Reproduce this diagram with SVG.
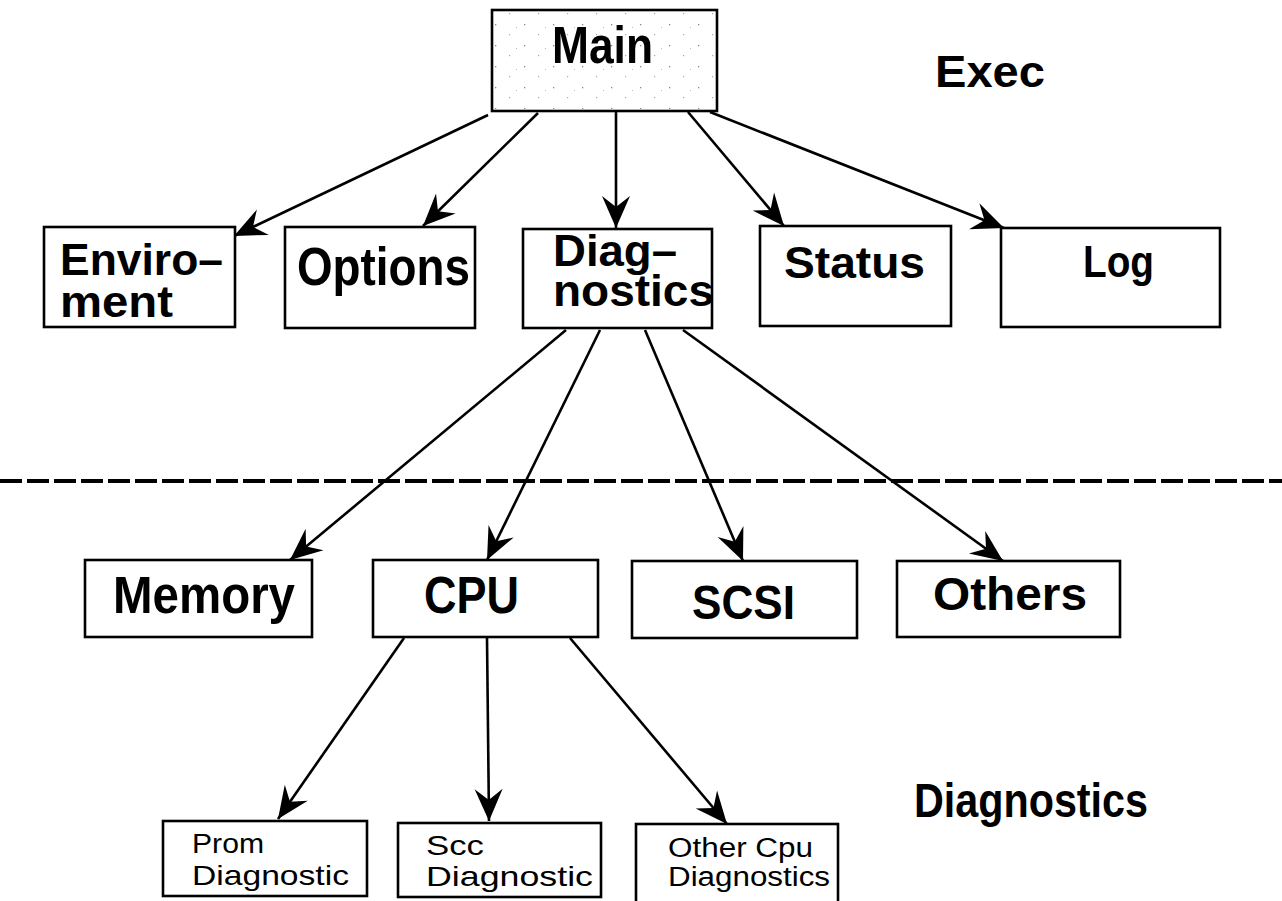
<svg xmlns="http://www.w3.org/2000/svg" width="1282" height="901" viewBox="0 0 1282 901">
<style>
.box{fill:#fff;stroke:#000;stroke-width:2.6}
.b{font-family:"Liberation Sans",Arial,sans-serif;font-weight:bold;fill:#000}
.r{font-family:"Liberation Sans",Arial,sans-serif;font-weight:normal;fill:#000}
.conn line{stroke:#000;stroke-width:2.6;marker-end:url(#ah)}
</style>
<defs>
<marker id="ah" markerUnits="userSpaceOnUse" markerWidth="36" markerHeight="32" viewBox="-34 -16 36 32" refX="0" refY="0" orient="auto">
<path d="M0,0 L-32,-14 L-21,0 L-32,14 Z" fill="#000"/>
</marker>
<pattern id="speck" width="29" height="21" patternUnits="userSpaceOnUse">
<rect x="2" y="3" width="1.3" height="1.3" fill="#888"/>
<rect x="16" y="13" width="1.2" height="1.2" fill="#aaa"/>
<rect x="23" y="6" width="1" height="1" fill="#bbb"/>
</pattern>
</defs>
<rect width="1282" height="901" fill="#fff"/>

<g id="connectors" class="conn">
<line x1="488" y1="115" x2="234" y2="236"/>
<line x1="538" y1="113" x2="423" y2="226"/>
<line x1="616" y1="112" x2="616" y2="228"/>
<line x1="688" y1="112" x2="784" y2="226"/>
<line x1="710" y1="112" x2="1004" y2="228"/>
<line x1="566" y1="330" x2="290" y2="560"/>
<line x1="600" y1="330" x2="487" y2="560"/>
<line x1="645" y1="330" x2="743" y2="561"/>
<line x1="683" y1="330" x2="1003" y2="561"/>
<line x1="404" y1="638" x2="278" y2="819"/>
<line x1="487" y1="638" x2="489" y2="821"/>
<line x1="570" y1="638" x2="727" y2="824"/>
</g>

<line id="divider" x1="0" y1="481" x2="1282" y2="481" stroke="#000" stroke-width="4" stroke-dasharray="22 5"/>

<g id="main">
<rect class="box" x="492" y="10" width="225" height="101"/>
<rect x="494" y="12" width="221" height="97" fill="url(#speck)"/>
<text class="b" x="552" y="63" font-size="52" textLength="101" lengthAdjust="spacingAndGlyphs">Main</text>
</g>
<g id="exec-label"><text class="b" x="935" y="87" font-size="45" textLength="110" lengthAdjust="spacingAndGlyphs">Exec</text></g>

<g id="environment">
<rect class="box" x="44" y="227" width="191" height="100"/>
<text class="b" x="60" y="275" font-size="44" textLength="163" lengthAdjust="spacingAndGlyphs">Enviro–</text>
<text class="b" x="60" y="317" font-size="44" textLength="113" lengthAdjust="spacingAndGlyphs">ment</text>
</g>
<g id="options">
<rect class="box" x="285" y="227" width="190" height="101"/>
<text class="b" x="297" y="285" font-size="53" textLength="173" lengthAdjust="spacingAndGlyphs">Options</text>
</g>
<g id="diagnostics">
<rect class="box" x="523" y="229" width="189" height="99"/>
<text class="b" x="553" y="266" font-size="44" textLength="124" lengthAdjust="spacingAndGlyphs">Diag–</text>
<text class="b" x="553" y="306" font-size="44" textLength="161" lengthAdjust="spacingAndGlyphs">nostics</text>
</g>
<g id="status">
<rect class="box" x="760" y="226" width="191" height="100"/>
<text class="b" x="784" y="278" font-size="45" textLength="141" lengthAdjust="spacingAndGlyphs">Status</text>
</g>
<g id="log">
<rect class="box" x="1001" y="228" width="219" height="99"/>
<text class="b" x="1083" y="277" font-size="45" textLength="71" lengthAdjust="spacingAndGlyphs">Log</text>
</g>

<g id="memory">
<rect class="box" x="85" y="560" width="227" height="77"/>
<text class="b" x="113" y="613" font-size="51" textLength="182" lengthAdjust="spacingAndGlyphs">Memory</text>
</g>
<g id="cpu">
<rect class="box" x="373" y="560" width="225" height="77"/>
<text class="b" x="424" y="613" font-size="51" textLength="95" lengthAdjust="spacingAndGlyphs">CPU</text>
</g>
<g id="scsi">
<rect class="box" x="632" y="561" width="225" height="77"/>
<text class="b" x="692" y="619" font-size="49" textLength="103" lengthAdjust="spacingAndGlyphs">SCSI</text>
</g>
<g id="others">
<rect class="box" x="897" y="561" width="223" height="76"/>
<text class="b" x="933" y="610" font-size="46" textLength="154" lengthAdjust="spacingAndGlyphs">Others</text>
</g>

<g id="prom">
<rect class="box" x="163" y="821" width="204" height="75"/>
<text class="r" x="192" y="853" font-size="28" textLength="72" lengthAdjust="spacingAndGlyphs">Prom</text>
<text class="r" x="192" y="885" font-size="28" textLength="157" lengthAdjust="spacingAndGlyphs">Diagnostic</text>
</g>
<g id="scc">
<rect class="box" x="398" y="823" width="203" height="74"/>
<text class="r" x="426" y="855" font-size="28" textLength="58" lengthAdjust="spacingAndGlyphs">Scc</text>
<text class="r" x="426" y="886" font-size="28" textLength="167" lengthAdjust="spacingAndGlyphs">Diagnostic</text>
</g>
<g id="othercpu">
<rect class="box" x="636" y="824" width="202" height="80"/>
<text class="r" x="668" y="857" font-size="27" textLength="145" lengthAdjust="spacingAndGlyphs">Other Cpu</text>
<text class="r" x="668" y="886" font-size="27" textLength="162" lengthAdjust="spacingAndGlyphs">Diagnostics</text>
</g>
<g id="diagnostics-label"><text class="b" x="914" y="817" font-size="48" textLength="234" lengthAdjust="spacingAndGlyphs">Diagnostics</text></g>
</svg>
